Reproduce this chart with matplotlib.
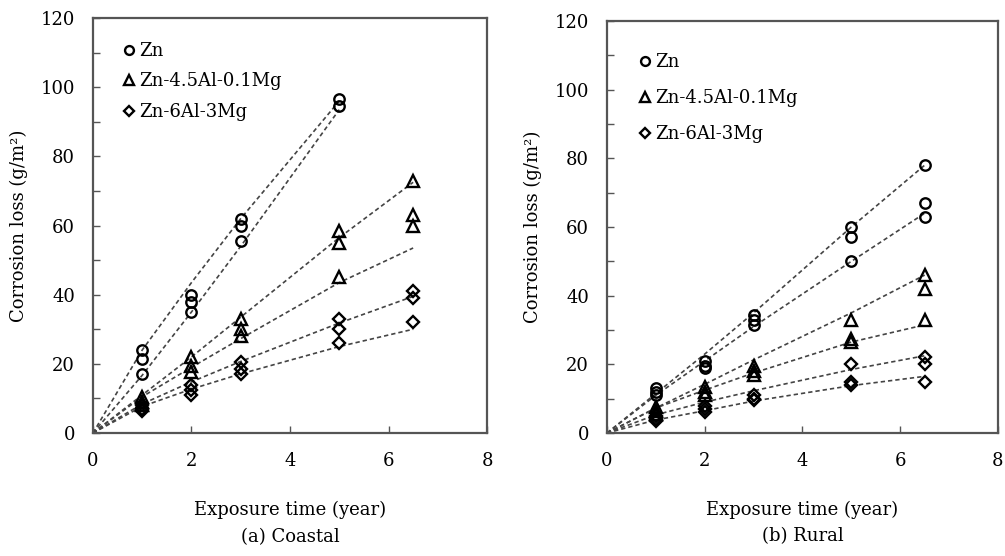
import matplotlib
matplotlib.use("Agg")
import matplotlib.pyplot as plt
from matplotlib.ticker import MultipleLocator
from matplotlib.lines import Line2D

plt.rcParams['font.family'] = ['DejaVu Serif']

series_names = ["Zn", "Zn-4.5Al-0.1Mg", "Zn-6Al-3Mg"]
markers = ["o", "^", "D"]

# ---------------- (a) Coastal: measured points ----------------
coastal_t = {
    "Zn": [1, 1, 1, 2, 2, 2, 3, 3, 3, 5, 5],
    "Zn-4.5Al-0.1Mg": [1, 1, 1, 2, 2, 2, 3, 3, 3, 5, 5, 5, 6.5, 6.5, 6.5],
    "Zn-6Al-3Mg": [1, 1, 1, 2, 2, 2, 3, 3, 3, 5, 5, 5, 6.5, 6.5, 6.5],
}
coastal_loss = {
    "Zn": [24, 21.5, 17, 40, 38, 35, 62, 60, 55.5, 96.5, 94.5],
    "Zn-4.5Al-0.1Mg": [10.5, 9, 8, 22, 19.5, 17.5, 33, 30, 28, 58.5, 55, 45, 73, 63, 60],
    "Zn-6Al-3Mg": [8, 7, 6.5, 14, 12.5, 11, 20.5, 18.5, 17, 33, 30, 26, 41, 39, 32],
}
# fitted trend lines (values read at the given times)
coastal_fit_t = {
    "Zn": [0, 1, 2, 3, 5],
    "Zn-4.5Al-0.1Mg": [0, 1, 2, 3, 5, 6.5],
    "Zn-6Al-3Mg": [0, 1, 2, 3, 5, 6.5],
}
coastal_fit_upper = {
    "Zn": [0, 24, 43.5, 62, 96],
    "Zn-4.5Al-0.1Mg": [0, 11, 22, 33.5, 56.5, 72.5],
    "Zn-6Al-3Mg": [0, 8.4, 14.8, 20.7, 31.8, 39.5],
}
coastal_fit_lower = {
    "Zn": [0, 16.7, 35, 54, 93.5],
    "Zn-4.5Al-0.1Mg": [0, 10.5, 19, 27.3, 43.5, 53.5],
    "Zn-6Al-3Mg": [0, 7.7, 12.7, 17.1, 25, 30],
}

# ---------------- (b) Rural: measured points ----------------
rural_t = {
    "Zn": [1, 1, 1, 2, 2, 2, 3, 3, 3, 5, 5, 5, 6.5, 6.5, 6.5],
    "Zn-4.5Al-0.1Mg": [1, 1, 1, 2, 2, 2, 3, 3, 3, 5, 5, 5, 6.5, 6.5, 6.5],
    "Zn-6Al-3Mg": [1, 1, 1, 2, 2, 2, 3, 3, 3, 5, 5, 5, 6.5, 6.5, 6.5],
}
rural_loss = {
    "Zn": [13, 12, 11, 21, 19.5, 19, 34.5, 33, 31.5, 60, 57, 50, 78, 67, 63],
    "Zn-4.5Al-0.1Mg": [7.7, 6.5, 5.5, 13.5, 12, 11, 19.5, 18, 17, 33, 27.5, 26.5, 46, 42, 33],
    "Zn-6Al-3Mg": [5, 4.2, 3.5, 8, 7, 6, 11, 10, 9.5, 20, 15, 14, 22, 20, 15],
}
rural_fit_t = [0, 1, 2, 3, 5, 6.5]
rural_fit_upper = {
    "Zn": [0, 11.5, 23, 35, 60, 78],
    "Zn-4.5Al-0.1Mg": [0, 7.3, 14.2, 21.3, 35, 46],
    "Zn-6Al-3Mg": [0, 5.3, 9, 12.3, 18.5, 22.5],
}
rural_fit_lower = {
    "Zn": [0, 11, 21, 31, 50, 64],
    "Zn-4.5Al-0.1Mg": [0, 7.3, 12.5, 17.5, 26.5, 31.5],
    "Zn-6Al-3Mg": [0, 3.8, 6.5, 9.3, 13.8, 16.5],
}

x_ticks = [0, 2, 4, 6, 8]
y_ticks = [0, 20, 40, 60, 80, 100, 120]

fig = plt.figure(figsize=(10.05, 5.56), dpi=100)
ax1 = fig.add_axes([0.0925, 0.2212, 0.3921, 0.7464])
ax2 = fig.add_axes([0.6040, 0.2212, 0.3890, 0.7410])

msize = {"o": 7.5, "^": 8.0, "D": 6.0}
dash = (0, (2.6, 1.8))
line_col = "#444444"
edge_w = 1.7


def draw_panel(ax, pts_t, pts_y, fit_t, fit_up, fit_lo, caption, leg_anchor, leg_spacing):
    for name, mk in zip(series_names, markers):
        ft = fit_t[name] if isinstance(fit_t, dict) else fit_t
        ax.plot(ft, fit_up[name], linestyle=dash, color=line_col, lw=1.2, zorder=2)
        ax.plot(ft, fit_lo[name], linestyle=dash, color=line_col, lw=1.2, zorder=2)
        ax.plot(pts_t[name], pts_y[name], linestyle="none", marker=mk,
                markersize=msize[mk], markerfacecolor="none", markeredgecolor="black",
                markeredgewidth=edge_w, zorder=3)
    ax.set_xlim(0, 8)
    ax.set_ylim(0, 120)
    ax.set_xticks(x_ticks)
    ax.set_yticks(y_ticks)
    ax.yaxis.set_minor_locator(MultipleLocator(10))
    ax.tick_params(axis="both", which="both", direction="in", top=False, right=False,
                   labelsize=13, color="#555555")
    ax.tick_params(axis="y", which="major", length=5, width=1.0, pad=13)
    ax.tick_params(axis="y", which="minor", length=5, width=1.0)
    ax.tick_params(axis="x", which="major", length=5, width=1.0, pad=14)
    for sp in ax.spines.values():
        sp.set_color("#555555")
        sp.set_linewidth(1.6)
    ax.set_xlabel("Exposure time (year)", fontsize=13, labelpad=22)
    ax.set_ylabel("Corrosion loss (g/m²)", fontsize=13, labelpad=9)
    ax.text(0.5, -0.25, caption, transform=ax.transAxes, ha="center", va="center",
            fontsize=13)
    handles = [Line2D([], [], linestyle="none", marker=mk, markersize=msize[mk] * 0.85,
                      markerfacecolor="none", markeredgecolor="black",
                      markeredgewidth=edge_w) for mk in markers]
    ax.legend(handles, series_names, loc="upper left", bbox_to_anchor=leg_anchor,
              frameon=False, fontsize=13, handlelength=0.6, handletextpad=0.25,
              labelspacing=leg_spacing, borderaxespad=0)


draw_panel(ax1, coastal_t, coastal_loss, coastal_fit_t, coastal_fit_upper,
           coastal_fit_lower, "(a) Coastal", (0.06, 0.96), 0.7)
draw_panel(ax2, rural_t, rural_loss, rural_fit_t, rural_fit_upper,
           rural_fit_lower, "(b) Rural", (0.065, 0.94), 1.0)

fig.savefig("out.png", dpi=100)
